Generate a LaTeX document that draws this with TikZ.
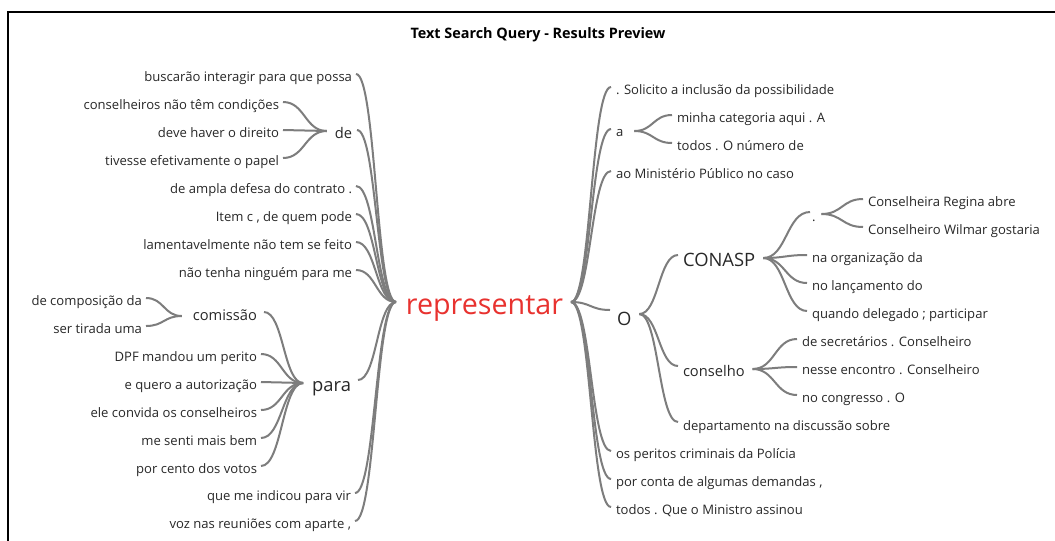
\documentclass[tikz,border=0pt]{standalone}
\usepackage{fontspec}
\setmainfont{Open Sans}
\usetikzlibrary{calc}
\definecolor{txt}{RGB}{40,40,40}
\definecolor{lnk}{RGB}{125,125,125}
\definecolor{hot}{RGB}{232,50,47}
\tikzset{
  every node/.style={inner sep=0pt, outer sep=0pt, text=txt},
  sm/.style={font=\fontsize{9.8}{11}\selectfont},
  md/.style={font=\fontsize{11}{13}\selectfont},
  lg/.style={font=\fontsize{13.8}{16}\selectfont},
  lt/.style={anchor=base east},
  rt/.style={anchor=base west},
  dlink/.style={to path={let \p1=(\tikztostart), \p2=(\tikztotarget) in
      .. controls ({(\x1+\x2)/2},\y1) and ({(\x1+\x2)/2},\y2) .. (\tikztotarget)}},
  link/.style={draw=lnk, line width=1.5pt, dlink},
}
\begin{document}
\begin{tikzpicture}[x=0.75pt,y=-0.75pt]
\useasboundingbox (0,0) rectangle (1055,540);
\fill[white] (0,0) rectangle (1055,540);
\draw[line width=1.4pt] (8.3,545) -- (8.3,12) -- (1060,12);

\node[font=\bfseries\fontsize{10.8}{12}\selectfont, text=black, anchor=base] (title) at (538,38) {Text Search Query - Results Preview};

\node[font=\fontsize{21.5}{24}\selectfont, text=hot, anchor=base] (rep) at (484.5,314) {representar};
\coordinate (hubL) at ([shift={(-10,-12)}]rep.base west);
\coordinate (hubR) at ([shift={(8,-12)}]rep.base east);

% left side
\node[sm,lt] (b1) at (352,81) {buscarão interagir para que possa};
\node[md,lt] (de) at (352,138) {de};
\node[sm,lt] (de1) at (279,109) {conselheiros não têm condições};
\node[sm,lt] (de2) at (279,137) {deve haver o direito};
\node[sm,lt] (de3) at (279,165) {tivesse efetivamente o papel};
\node[sm,lt] (b3) at (352,193) {de ampla defesa do contrato .};
\node[sm,lt] (b4) at (352,221) {Item c , de quem pode};
\node[sm,lt] (b5) at (352,249) {lamentavelmente não tem se feito};
\node[sm,lt] (b6) at (352,277) {não tenha ninguém para me};
\node[md,lt] (com) at (257,320) {comissão};
\node[sm,lt] (com1) at (142,305) {de composição da};
\node[sm,lt] (com2) at (142,333) {ser tirada uma};
\node[lg,lt] (para) at (351,391) {para};
\node[sm,lt] (pa1) at (257,361) {DPF mandou um perito};
\node[sm,lt] (pa2) at (257,389) {e quero a autorização};
\node[sm,lt] (pa3) at (257,417) {ele convida os conselheiros};
\node[sm,lt] (pa4) at (257,445) {me senti mais bem};
\node[sm,lt] (pa5) at (257,473) {por cento dos votos};
\node[sm,lt] (b9) at (351,500) {que me indicou para vir};
\node[sm,lt] (b10) at (351,528) {voz nas reuniões com aparte ,};

\coordinate (deH) at ([shift={(-8,-7)}]de.base west);
\coordinate (comH) at ([shift={(-11,-4)}]com.base west);
\coordinate (paraH) at ([shift={(-9,-8)}]para.base west);

\foreach \n in {b1,b3,b4,b5,b6,b9,b10}
  \draw[link] ([shift={(4,-7)}]\n.base east) to (hubL);
\draw[link] ([shift={(5,-8)}]de.base east) to (hubL);
\draw[link] ([shift={(7,-11)}]para.base east) to (hubL);
\foreach \n in {de1,de2,de3}
  \draw[link] ([shift={(4,-7)}]\n.base east) to (deH);
\foreach \n in {pa1,pa2,pa3,pa4,pa5}
  \draw[link] ([shift={(4,-7)}]\n.base east) to (paraH);
\draw[link] ([shift={(7,-8)}]com.base east) to (paraH);
\foreach \n in {com1,com2}
  \draw[link] ([shift={(4,-7)}]\n.base east) to (comH);

% right side
\node[sm,rt] (sol) at (616,94) {. Solicito a inclusão da possibilidade};
\node[sm,rt] (a) at (616,136) {a};
\node[sm,rt] (a1) at (677,122) {minha categoria aqui . A};
\node[sm,rt] (a2) at (677,150) {todos . O número de};
\node[sm,rt] (min) at (616,178) {ao Ministério Público no caso};
\node[lg,rt] (O) at (617,325) {O};
\node[lg,rt] (conasp) at (683,266) {CONASP};
\node[sm,rt] (dot) at (812,221) {.};
\node[sm,rt] (cr1) at (868,206) {Conselheira Regina abre};
\node[sm,rt] (cr2) at (868,234) {Conselheiro Wilmar gostaria};
\node[sm,rt] (na1) at (812,262) {na organização da};
\node[sm,rt] (na2) at (812,290) {no lançamento do};
\node[sm,rt] (na3) at (812,318) {quando delegado ; participar};
\node[md,rt] (cons) at (683,376) {conselho};
\node[sm,rt] (cs1) at (802,346) {de secretários . Conselheiro};
\node[sm,rt] (cs2) at (802,374) {nesse encontro . Conselheiro};
\node[sm,rt] (cs3) at (802,402) {no congresso . O};
\node[sm,rt] (dep) at (683,430) {departamento na discussão sobre};
\node[sm,rt] (os1) at (616,458) {os peritos criminais da Polícia};
\node[sm,rt] (os2) at (616,486) {por conta de algumas demandas ,};
\node[sm,rt] (os3) at (616,514) {todos . Que o Ministro assinou};

\coordinate (aH) at ([shift={(11,-5)}]a.base east);
\coordinate (OH) at ([shift={(8,-11)}]O.base east);
\coordinate (CH) at ([shift={(8,-8)}]conasp.base east);
\coordinate (dotH) at ([shift={(6,-7)}]dot.base east);
\coordinate (csH) at ([shift={(8,-7)}]cons.base east);

\foreach \n in {sol,a,min,os1,os2,os3}
  \draw[link] (hubR) to ([shift={(-5,-7)}]\n.base west);
\draw[link] (hubR) to ([shift={(-7,-15)}]O.base west);
\foreach \n in {a1,a2}
  \draw[link] (aH) to ([shift={(-5,-7)}]\n.base west);
\draw[link] (OH) to ([shift={(-5,-11)}]conasp.base west);
\draw[link] (OH) to ([shift={(-5,-10)}]cons.base west);
\draw[link] (OH) to ([shift={(-5,-8)}]dep.base west);
\draw[link] (CH) to ([shift={(-2,-9)}]dot.base west);
\foreach \n in {na1,na2,na3}
  \draw[link] (CH) to ([shift={(-5,-7)}]\n.base west);
\foreach \n in {cr1,cr2}
  \draw[link] (dotH) to ([shift={(-5,-7)}]\n.base west);
\foreach \n in {cs1,cs2,cs3}
  \draw[link] (csH) to ([shift={(-5,-7)}]\n.base west);
\end{tikzpicture}
\end{document}
